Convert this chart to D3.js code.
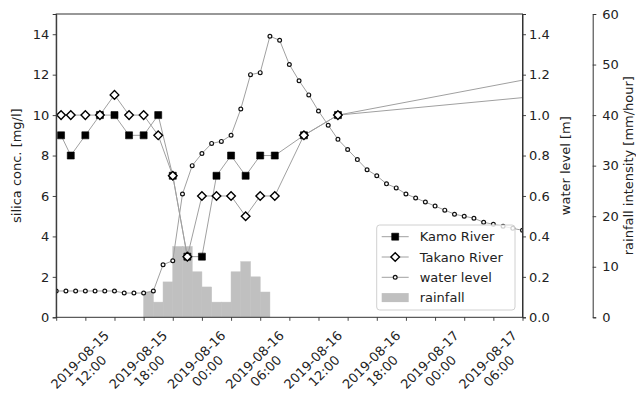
<!DOCTYPE html>
<html>
<head>
<meta charset="utf-8">
<script src="https://cdn.jsdelivr.net/npm/d3@7"></script>
<style>
body { margin: 0; background: #fff; }
text { font-family: "DejaVu Sans", sans-serif; font-size: 13px; fill: #222; }
</style>
</head>
<body>
<div id="chart"></div>
<script>
"use strict";

// silica samples (Kamo / Takano), last sample lies past the right edge
const sampleTimes = ["2019-08-15 09:30", "2019-08-15 10:30", "2019-08-15 12:00", "2019-08-15 13:30",
  "2019-08-15 15:00", "2019-08-15 16:30", "2019-08-15 18:00", "2019-08-15 19:30", "2019-08-15 21:00",
  "2019-08-15 22:30", "2019-08-16 00:00", "2019-08-16 01:30", "2019-08-16 03:00", "2019-08-16 04:30",
  "2019-08-16 06:00", "2019-08-16 07:30", "2019-08-16 10:30", "2019-08-16 14:00", "2019-08-17 12:00"];
const kamoRiver =   [9, 8, 9, 10, 10, 9, 9, 10, 7, 3, 3, 7, 8, 7, 8, 8, 9, 10, 12];
const takanoRiver = [10, 10, 10, 10, 11, 10, 10, 9, 7, 3, 6, 6, 6, 5, 6, 6, 9, 10, 11];

// hourly water level [m], from 2019-08-15 09:00
const levelStart = "2019-08-15 09:00";
const waterLevel = [0.13, 0.13, 0.13, 0.13, 0.13, 0.13, 0.13, 0.12, 0.12, 0.12,
  0.13, 0.26, 0.28, 0.61, 0.75, 0.81, 0.86, 0.87, 0.90, 1.03,
  1.20, 1.21, 1.39, 1.37, 1.25, 1.17, 1.10, 1.02, 0.95, 0.88,
  0.83, 0.78, 0.73, 0.70, 0.66, 0.64, 0.61, 0.59, 0.57, 0.55,
  0.53, 0.51, 0.50, 0.49, 0.47, 0.46, 0.45, 0.44, 0.43];

// hourly rainfall [mm/hour], from 2019-08-15 18:00
const rainStart = "2019-08-15 18:00";
const rainfall = [5, 3, 7, 14, 14, 9, 6, 3, 3, 9, 11, 8, 5];

// axis ticks
const silicaTicks = [0, 2, 4, 6, 8, 10, 12, 14];
const levelTicks = [0, 0.2, 0.4, 0.6, 0.8, 1.0, 1.2, 1.4];
const rainTicks = [0, 10, 20, 30, 40, 50, 60];
const xRange = ["2019-08-15 09:00", "2019-08-17 09:00"];

const parse = d3.timeParse("%Y-%m-%d %H:%M");

let plot = {left: 56.2, right: 522.5, top: 14, bottom: 317.3};

const svg = d3.select("#chart").append("svg")
  .attr("width", 636)
  .attr("height", 396);

svg.append("rect").attr("width", 636).attr("height", 396).attr("fill", "#fff");

// scales
let xScale = d3.scaleTime().domain(xRange.map(parse)).range([plot.left, plot.right]);
let ySilica = d3.scaleLinear().domain([0, 15]).range([plot.bottom, plot.top]);
let yLevel = d3.scaleLinear().domain([0, 1.5]).range([plot.bottom, plot.top]);
let yRain = d3.scaleLinear().domain([0, 60]).range([plot.bottom, plot.top]);

svg.append("clipPath").attr("id", "plotClip")
  .append("rect")
  .attr("x", plot.left).attr("y", plot.top)
  .attr("width", plot.right - plot.left).attr("height", plot.bottom - plot.top);

let body = svg.append("g").attr("clip-path", "url(#plotClip)");

// rainfall bars
let rainT0 = parse(rainStart);
let rainData = rainfall.map((v, i) => ({t: d3.timeHour.offset(rainT0, i), v: v}));
body.append("g").selectAll("rect").data(rainData).enter()
  .append("rect")
  .attr("x", d => xScale(d.t))
  .attr("width", d => xScale(d3.timeHour.offset(d.t, 1)) - xScale(d.t))
  .attr("y", d => yRain(d.v))
  .attr("height", d => yRain(0) - yRain(d.v))
  .attr("fill", "#c0c0c0")
  .attr("stroke", "#c0c0c0")
  .attr("stroke-width", 0.5);

// water level
let levelT0 = parse(levelStart);
let levelData = waterLevel.map((v, i) => ({t: d3.timeHour.offset(levelT0, i), v: v}));
body.append("path")
  .attr("d", d3.line().x(d => xScale(d.t)).y(d => yLevel(d.v))(levelData))
  .attr("fill", "none").attr("stroke", "#a0a0a0").attr("stroke-width", 1);
body.append("g").selectAll("circle").data(levelData).enter()
  .append("circle")
  .attr("cx", d => xScale(d.t)).attr("cy", d => yLevel(d.v))
  .attr("r", 1.9)
  .attr("fill", "#fff").attr("stroke", "#111").attr("stroke-width", 1.2);

// silica series
let times = sampleTimes.map(parse);
let kamoData = kamoRiver.map((v, i) => ({t: times[i], v: v}));
let takanoData = takanoRiver.map((v, i) => ({t: times[i], v: v}));
let silicaLine = d3.line().x(d => xScale(d.t)).y(d => ySilica(d.v));

[kamoData, takanoData].forEach(series => {
  body.append("path")
    .attr("d", silicaLine(series))
    .attr("fill", "none").attr("stroke", "#a0a0a0").attr("stroke-width", 1);
});

const squarePath = d3.symbol().type(d3.symbolSquare).size(49);
function diamondPath(s) { return `M0,${-s}L${s},0L0,${s}L${-s},0Z`; }

body.append("g").selectAll("path").data(kamoData).enter()
  .append("path")
  .attr("transform", d => `translate(${xScale(d.t)},${ySilica(d.v)})`)
  .attr("d", squarePath)
  .attr("fill", "#000").attr("stroke", "#000").attr("stroke-width", 0.6);

body.append("g").selectAll("path").data(takanoData).enter()
  .append("path")
  .attr("transform", d => `translate(${xScale(d.t)},${ySilica(d.v)})`)
  .attr("d", diamondPath(4.3))
  .attr("fill", "#fff").attr("stroke", "#000").attr("stroke-width", 1.4);

// frame
svg.append("rect")
  .attr("x", plot.left).attr("y", plot.top)
  .attr("width", plot.right - plot.left).attr("height", plot.bottom - plot.top)
  .attr("fill", "none").attr("stroke", "#333").attr("stroke-width", 1);

// left axis
let leftAxis = svg.append("g")
  .attr("transform", `translate(${plot.left},0)`)
  .call(d3.axisLeft(ySilica).tickValues(silicaTicks).tickSize(3.5).tickPadding(3.5));

// right axis - water level
let levelAxis = svg.append("g")
  .attr("transform", `translate(${plot.right},0)`)
  .call(d3.axisRight(yLevel).tickValues(levelTicks).tickFormat(d3.format(".1f")).tickSize(3.5).tickPadding(3));

// outer right axis - rainfall
let rainAxis = svg.append("g")
  .attr("transform", "translate(592.7,0)")
  .call(d3.axisRight(yRain).tickValues(rainTicks).tickSize(3.5).tickPadding(6));

// bottom axis, ticks every 3 hours, labels every 6
let xAxis = svg.append("g")
  .attr("transform", `translate(0,${plot.bottom})`)
  .call(d3.axisBottom(xScale).ticks(d3.timeHour.every(3)).tickFormat("").tickSize(3.5));

[leftAxis, levelAxis, rainAxis, xAxis].forEach(ax => {
  ax.select(".domain").attr("stroke", "#333").attr("stroke-width", 1);
  ax.selectAll(".tick line").attr("stroke", "#333").attr("stroke-width", 0.9);
  ax.selectAll(".tick text").style("font-family", "DejaVu Sans").style("font-size", "13px").attr("fill", "#222");
});
xAxis.select(".domain").remove();

let labelTimes = xScale.ticks(d3.timeHour.every(6))
  .filter(t => t > xScale.domain()[0] && t < xScale.domain()[1]);
let fmtDay = d3.timeFormat("%Y-%m-%d");
let fmtHour = d3.timeFormat("%H:%M");

let xLabels = svg.append("g").selectAll("g").data(labelTimes).enter()
  .append("g")
  .attr("transform", t => `translate(${xScale(t)},${plot.bottom + 48}) rotate(-45)`);
let xText = xLabels.append("text").attr("text-anchor", "middle");
xText.append("tspan").attr("x", 0).attr("y", -3.1).text(fmtDay);
xText.append("tspan").attr("x", 0).attr("y", 12.5).text(fmtHour);

// axis titles
svg.append("text")
  .attr("text-anchor", "middle")
  .attr("transform", `translate(20.5,${(plot.top + plot.bottom) / 2}) rotate(-90)`)
  .text("silica conc. [mg/l]");

svg.append("text")
  .attr("text-anchor", "middle")
  .attr("transform", `translate(570,${(plot.top + plot.bottom) / 2}) rotate(-90)`)
  .text("water level [m]");

svg.append("text")
  .attr("text-anchor", "middle")
  .attr("transform", `translate(632.5,${(plot.top + plot.bottom) / 2}) rotate(-90)`)
  .text("rainfall intensity [mm/hour]");

// legend
let legend = svg.append("g").attr("transform", "translate(376.7,225)");
legend.append("rect")
  .attr("width", 138.3).attr("height", 85)
  .attr("rx", 3)
  .attr("fill", "#fff").attr("fill-opacity", 0.8)
  .attr("stroke", "#d0d0d0").attr("stroke-width", 1);

let legendItems = ["Kamo River", "Takano River", "water level", "rainfall"];
legendItems.forEach((name, i) => {
  let row = legend.append("g").attr("transform", `translate(5,${11.7 + i * 20.3})`);
  if (name === "rainfall") {
    row.append("rect").attr("x", 0).attr("y", -4.5).attr("width", 27).attr("height", 9)
      .attr("fill", "#c0c0c0");
  } else {
    row.append("line").attr("x1", 0).attr("x2", 27)
      .attr("stroke", "#a0a0a0").attr("stroke-width", 1);
    let m = row.append("g").attr("transform", "translate(13.5,0)");
    if (name === "Kamo River") {
      m.append("path").attr("d", squarePath).attr("fill", "#000").attr("stroke", "#000").attr("stroke-width", 0.6);
    } else if (name === "Takano River") {
      m.append("path").attr("d", diamondPath(4.3)).attr("fill", "#fff").attr("stroke", "#000").attr("stroke-width", 1.4);
    } else {
      m.append("circle").attr("r", 1.9).attr("fill", "#fff").attr("stroke", "#111").attr("stroke-width", 1.2);
    }
  }
  row.append("text").attr("x", 38).attr("dy", "0.35em").text(name);
});
</script>
</body>
</html>
